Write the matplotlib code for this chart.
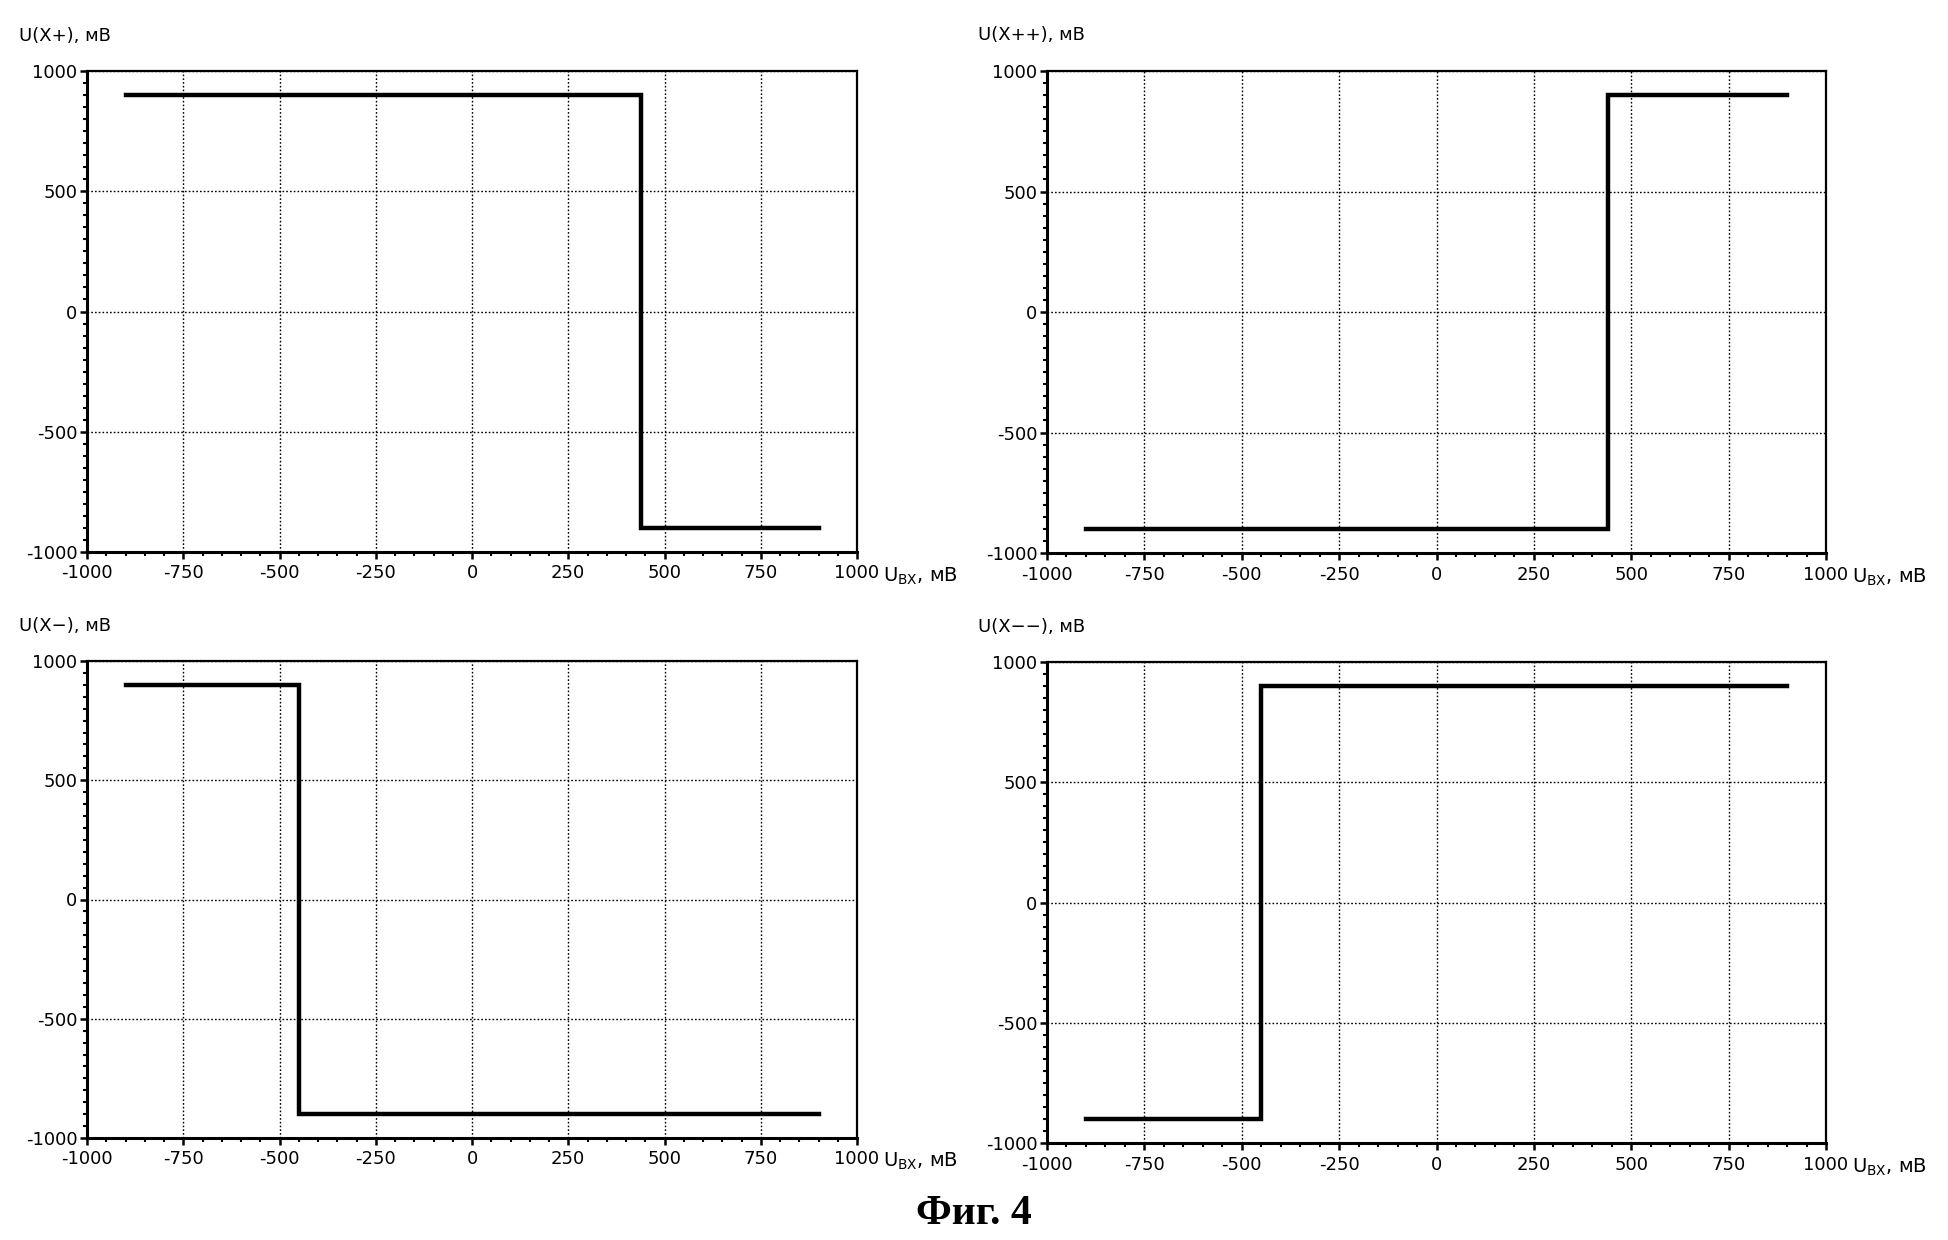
import matplotlib.pyplot as plt
from matplotlib.ticker import MultipleLocator

plt.rcParams["font.family"] = ["DejaVu Sans"]
plt.rcParams["axes.unicode_minus"] = False

# Step transfer curves, input voltage (mV) vs output voltage (mV)
x_plus = [-900, 440, 440, 900]
y_plus = [900, 900, -900, -900]

x_pplus = [-900, 440, 440, 900]
y_pplus = [-900, -900, 900, 900]

x_minus = [-900, -450, -450, 900]
y_minus = [900, 900, -900, -900]

x_mminus = [-900, -450, -450, 900]
y_mminus = [-900, -900, 900, 900]

panels = [
    ("U(X+), мВ", x_plus, y_plus),
    ("U(X++), мВ", x_pplus, y_pplus),
    ("U(X\u2212), мВ", x_minus, y_minus),
    ("U(X\u2212\u2212), мВ", x_mminus, y_mminus),
]

W, H = 1948, 1240
# axes boxes in pixels: left, top, right, bottom
boxes = [
    (87, 71, 857, 552),
    (1047, 71, 1826, 553),
    (87, 661, 857, 1138),
    (1047, 662, 1826, 1143),
]

fig = plt.figure(figsize=(W / 100, H / 100), dpi=100)

for (label, xs, ys), (l, t, r, b) in zip(panels, boxes):
    ax = fig.add_axes([l / W, 1 - b / H, (r - l) / W, (b - t) / H])
    ax.plot(xs, ys, color="black", linewidth=3.2, solid_joinstyle="miter")
    ax.set_xlim(-1000, 1000)
    ax.set_ylim(-1000, 1000)
    ax.xaxis.set_major_locator(MultipleLocator(250))
    ax.xaxis.set_minor_locator(MultipleLocator(50))
    ax.yaxis.set_major_locator(MultipleLocator(500))
    ax.yaxis.set_minor_locator(MultipleLocator(50))
    ax.grid(True, which="major", color="black", linestyle=(0, (1.2, 1.5)),
            linewidth=1.0)
    for side in ("left", "bottom"):
        ax.spines[side].set_linewidth(2.2)
    for side in ("top", "right"):
        ax.spines[side].set_linewidth(1.6)
    ax.tick_params(which="major", direction="out", length=5, width=1.8,
                   labelsize=13, pad=2)
    ax.tick_params(which="minor", direction="out", length=3, width=1.5)
    ax.tick_params(axis="x", pad=4)
    # axis captions
    ax.text(-0.088, 1.055, label, transform=ax.transAxes, fontsize=13,
            ha="left", va="bottom")
    ax.text(1.034, -0.05, r"U$_{\mathregular{BX}}$, мВ", transform=ax.transAxes,
            fontsize=14, ha="left", va="center")

fig.text(0.50, 0.006, "Фиг. 4", family="Liberation Serif", fontsize=30,
         fontweight="bold", ha="center", va="bottom")

fig.savefig("out.png", dpi=100, facecolor="white")
